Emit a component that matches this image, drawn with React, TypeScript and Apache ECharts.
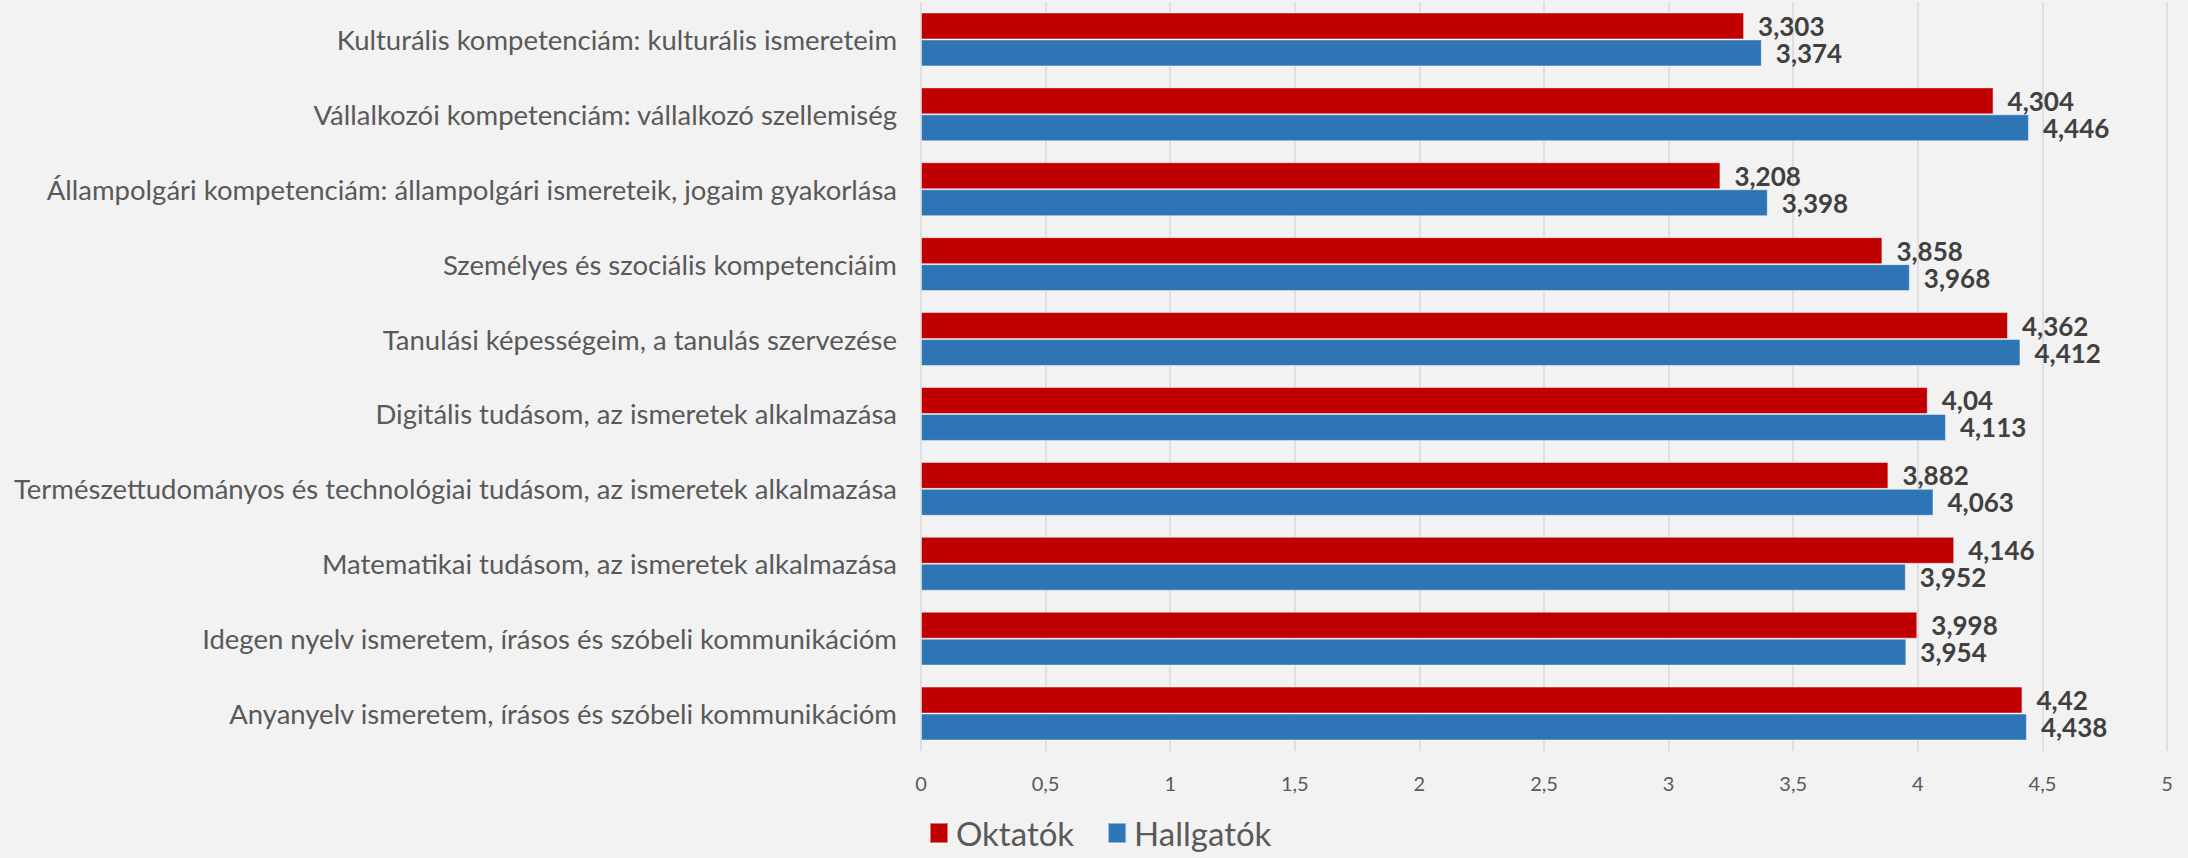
import React, { useEffect, useRef } from "react";
import * as echarts from "echarts";

const categories = [
  "Kulturális kompetenciám: kulturális ismereteim",
  "Vállalkozói kompetenciám: vállalkozó szellemiség",
  "Állampolgári kompetenciám: állampolgári ismereteik, jogaim gyakorlása",
  "Személyes és szociális kompetenciáim",
  "Tanulási képességeim, a tanulás szervezése",
  "Digitális tudásom, az ismeretek alkalmazása",
  "Természettudományos és technológiai tudásom, az ismeretek alkalmazása",
  "Matematikai tudásom, az ismeretek alkalmazása",
  "Idegen nyelv ismeretem, írásos és szóbeli kommunikációm",
  "Anyanyelv ismeretem, írásos és szóbeli kommunikációm",
];
const oktatok = [3.303, 4.304, 3.208, 3.858, 4.362, 4.04, 3.882, 4.146, 3.998, 4.42];
const hallgatok = [3.374, 4.446, 3.398, 3.968, 4.412, 4.113, 4.063, 3.952, 3.954, 4.438];
const seriesNames = ["Oktatók", "Hallgatók"];

const FONT = "Lato, 'Open Sans', sans-serif";
const fmt = (v: number) => String(v).replace(".", ",");

export default function App() {
  const ref = useRef<HTMLDivElement>(null);
  useEffect(() => {
    document.body.style.margin = "0";
    const chart = echarts.init(ref.current!, null, { renderer: "svg" });
    const label = {
      show: true,
      position: "right" as const,
      distance: 14,
      color: "#404040",
      fontFamily: FONT,
      fontWeight: "bold" as const,
      fontSize: 26,
      lineHeight: 26,
      formatter: (p: any) => fmt(p.value),
    };
    chart.setOption({
      animation: false,
      backgroundColor: "#f2f2f2",
      textStyle: { fontFamily: FONT },
      grid: { left: 921, right: 21, top: 2, bottom: 107 },
      legend: {
        data: seriesNames,
        left: 929,
        top: 815,
        padding: 0,
        itemWidth: 18,
        itemHeight: 20,
        itemGap: 33,
        icon: "rect",
        textStyle: { fontSize: 33, lineHeight: 36, color: "#595959", fontFamily: FONT, padding: [0, 0, 0, 3] },
      },
      xAxis: {
        type: "value",
        min: 0,
        max: 5,
        interval: 0.5,
        axisLine: { show: false },
        axisTick: { show: false },
        splitLine: { lineStyle: { color: "#d9d9d9", width: 1.5 } },
        axisLabel: {
          color: "#595959",
          fontSize: 20,
          margin: 22,
          fontFamily: FONT,
          formatter: (v: number) => fmt(v),
        },
      },
      yAxis: {
        type: "category",
        data: categories,
        inverse: true,
        axisLine: { show: false },
        axisTick: { show: false },
        axisLabel: { color: "#595959", fontSize: 27.5, margin: 24, fontFamily: FONT },
      },
      series: [
        {
          name: seriesNames[0],
          type: "bar",
          data: oktatok,
          barGap: "0%",
          barCategoryGap: "28%",
          itemStyle: { color: "#C00000", borderColor: "rgba(255,255,255,0.45)", borderWidth: 1 },
          label,
        },
        {
          name: seriesNames[1],
          type: "bar",
          data: hallgatok,
          barGap: "0%",
          barCategoryGap: "28%",
          itemStyle: { color: "#2E75B6", borderColor: "rgba(255,255,255,0.45)", borderWidth: 1 },
          label,
        },
      ],
    });
    return () => chart.dispose();
  }, []);
  return <div ref={ref} style={{ width: 2188, height: 858 }} />;
}
